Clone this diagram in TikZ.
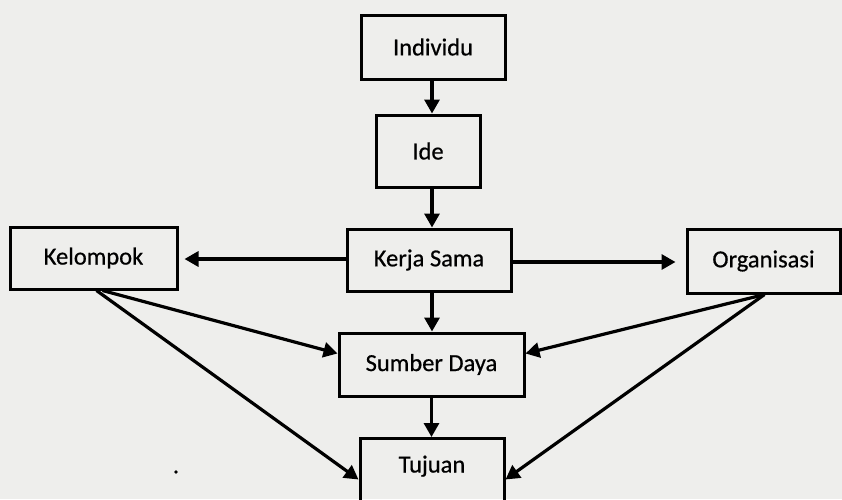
\documentclass[tikz,border=0pt]{standalone}
\usepackage{fontspec}
\setmainfont{Carlito}[FakeBold=0.6]
\usetikzlibrary{arrows.meta}
\definecolor{paper}{RGB}{238,238,236}
\tikzset{
  box/.style={draw=black, line width=3pt, rectangle, inner sep=0pt, font=\fontsize{24.5}{29}\selectfont},
  arr/.style={draw=black, line width=3.2pt, -{Triangle[length=14pt,width=15pt]}},
}
\begin{document}
\begin{tikzpicture}[x=1pt,y=-1pt]
\useasboundingbox (0,0) rectangle (842,499);
\fill[paper] (0,0) rectangle (842,499);
\clip (0,0) rectangle (842,499);

\node[box, minimum width=144pt, minimum height=64pt] (Individu) at (433,47) {Individu};
\node[box, minimum width=104pt, minimum height=72pt] (Ide) at (428,151) {Ide};
\node[box, minimum width=164pt, minimum height=62pt] (Kerja) at (429,260) {Kerja Sama};
\node[box, minimum width=167pt, minimum height=62pt] (Kelompok) at (93.5,258) {Kelompok};
\node[box, minimum width=153pt, minimum height=64pt] (Organisasi) at (763.5,261) {Organisasi};
\node[box, minimum width=185pt, minimum height=63pt] (Sumber) at (431.5,364.5) {Sumber Daya};
\node[box, anchor=north, minimum width=144pt, inner ysep=0pt, text height=34pt, text depth=48pt] (Tujuan) at (432,437) {Tujuan};

\coordinate (kA) at ([xshift=9pt]Kelompok.south);
\coordinate (kB) at ([xshift=3pt]Kelompok.south);
\coordinate (oA) at ([xshift=1pt]Organisasi.south);

\draw[arr] ([xshift=-1pt]Individu.south) -- ([xshift=-1pt]Individu.south |- Ide.north);
\draw[arr] ([xshift=4pt]Ide.south) -- ([xshift=4pt]Ide.south |- Kerja.north);
\draw[arr, shorten >=6pt] ([yshift=1pt]Kerja.west) -- ([yshift=1pt]Kerja.west -| Kelompok.east);
\draw[arr, shorten >=10pt] ([yshift=-2pt]Kerja.east) -- ([yshift=-2pt]Kerja.east -| Organisasi.west);
\draw[arr] ([xshift=3pt]Kerja.south) -- ([xshift=3pt]Kerja.south |- Sumber.north);
\draw[arr] (Sumber.south) -- (Sumber.south |- Tujuan.north);

\draw[arr] (kA) -- ([yshift=11pt]Sumber.west);
\draw[arr] (kB) -- (Tujuan.west);
\draw[arr] (oA) -- ([yshift=11pt]Sumber.east);
\draw[arr] (oA) -- (Tujuan.east);

\fill[black] (176,472) circle (1.8pt);
\end{tikzpicture}
\end{document}
